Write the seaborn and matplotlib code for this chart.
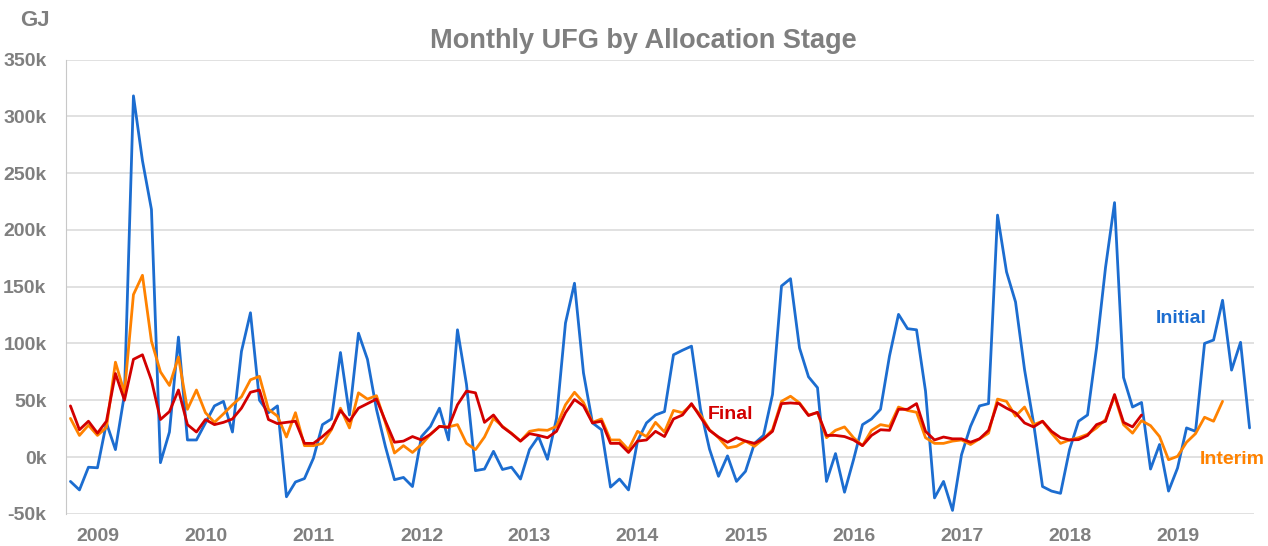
import matplotlib
matplotlib.use("Agg")
import matplotlib.pyplot as plt
import pandas as pd
import seaborn as sns

# monthly UFG in thousands of GJ, Oct 2008 onwards (one row per calendar year)
initial = [
    -21.5, -29, -9,
    -9.5, 30, 6.5, 55, 318, 261, 218, -5, 22, 105.6, 15, 15,
    30, 45, 49, 22, 93, 127, 50, 39, 45, -35, -22, -19,
    -1, 28.5, 33.5, 92, 37, 109, 86, 42, 9, -20, -18, -26,
    18, 27, 43, 15, 112, 64, -12, -10.6, 5, -11, -9, -19.4,
    6.5, 18, -2, 34, 118, 153, 74, 30, 24, -26.5, -19.4, -29,
    14, 30, 37, 40, 90, 94, 97.6, 42, 7, -17, 1, -21.5,
    -12.6, 12, 19, 55, 150.6, 157, 96, 70.6, 61, -21.5, 3, -31,
    -2.4, 28.5, 33.5, 42, 89, 125.6, 113, 112, 58, -36, -21.5, -47,
    2, 27, 45, 47, 213, 163, 136.5, 77, 30, -26, -30, -32,
    6.5, 31.5, 37, 96, 167, 224, 70, 44, 48, -10.6, 11, -30,
    -9.7, 25.6, 22.6, 100, 103, 138, 76.5, 101, 25.6,
]
interim = [
    34, 19, 28,
    19, 26, 83.5, 56.5, 143, 160, 102, 75, 63, 88, 42, 59,
    39, 30.5, 38, 46, 53, 68, 71, 42, 36, 17.6, 39, 10,
    10, 12, 24, 43, 25.6, 56.5, 51, 54, 30, 3.5, 10, 4,
    11, 20, 27, 26.5, 28.5, 12, 6.5, 17.6, 34, 27, 21, 14,
    22.6, 24, 23.5, 27, 46, 57, 48, 30.5, 33.5, 15, 15, 6.5,
    22.6, 18, 30.5, 22, 41, 39, 46, 37, 24, 17, 8, 9.4,
    14, 9.4, 16, 24, 49, 53.5, 47.6, 37, 39, 17, 23.5, 26.5,
    17, 10, 23.5, 28.5, 27, 44, 41, 39.4, 17, 12, 12, 14,
    15, 11, 16, 21, 51, 49, 36, 44, 28.5, 31.5, 21, 12,
    15, 17, 20, 25.6, 33, 53.5, 28.5, 21, 32, 27.6, 18, -2.4,
    0.6, 13, 20.6, 35, 31.5, 49,
]
final = [
    45, 24, 31.5,
    21, 31.5, 73.5, 50, 86, 90, 67.6, 33, 40, 59, 28.5, 22,
    33, 28.5, 30.5, 33.5, 43, 57, 59, 33, 29.4, 30.5, 31.5, 12,
    12, 18, 25, 41, 31.5, 43, 47, 51, 31.5, 13, 14, 18,
    15, 20, 27, 26, 46, 58, 56.5, 30.5, 37, 26.5, 20.6, 14,
    20.6, 19, 17, 22.6, 39, 50.6, 45, 30, 31.5, 12, 12, 4,
    14, 15, 22.6, 18, 33.5, 37, 47, 35, 23.5, 17.6, 13, 17,
    14, 12, 16, 22.6, 47, 47.6, 47, 36.5, 39.4, 19, 19, 18,
    15, 10, 19, 24, 23.5, 42, 42, 47, 22.6, 15, 17.6, 16,
    16, 13, 16, 23.5, 47.6, 43, 39, 30, 26.5, 31.5, 22.6, 17,
    15, 15.3, 19, 28.5, 31.5, 55, 30.5, 26.5, 37,
]
years = list(range(2009, 2020))
y_ticks = list(range(-50, 351, 50))

GREY = "#7f7f7f"
colors = {"Initial": "#1c6dd0", "Interim": "#ff8200", "Final": "#d20000"}

frames = []
for name, vals in [("Initial", initial), ("Interim", interim), ("Final", final)]:
    frames.append(pd.DataFrame({"month": range(len(vals)), "ufg": vals, "stage": name}))
df = pd.concat(frames, ignore_index=True)

sns.set_style("white")
plt.rcParams["font.family"] = ["Liberation Sans", "DejaVu Sans"]
plt.rcParams["font.weight"] = "bold"

fig = plt.figure(figsize=(12.68, 5.46), dpi=100)
ax = fig.add_axes([0.052, 0.059, 0.937, 0.832])

sns.lineplot(data=df, x="month", y="ufg", hue="stage", palette=colors,
             hue_order=["Initial", "Interim", "Final"], linewidth=2.0,
             legend=False, ax=ax)

ax.set_xlim(-0.5, 131.5)
ax.set_ylim(-50, 350)
ax.set_yticks(y_ticks)
ax.set_yticklabels([f"{t}k" for t in y_ticks])
ax.set_xticks([3 + 12 * i for i in range(len(years))])
ax.set_xticklabels([str(y) for y in years])
ax.yaxis.grid(True, color="#dcdcdc", linewidth=1.2)
ax.set_axisbelow(True)

ax.tick_params(axis="y", colors="#c8c8c8", labelcolor=GREY, labelsize=14,
               length=6, width=1, pad=8)
ax.tick_params(axis="x", length=0, labelcolor=GREY, labelsize=14, pad=10)
for s in ["top", "right", "bottom"]:
    ax.spines[s].set_visible(False)
ax.spines["left"].set_color("#c8c8c8")
ax.set_xlabel("")
ax.set_ylabel("")

fig.text(0.507, 0.925, "Monthly UFG by Allocation Stage", ha="center", va="center",
         fontsize=19.5, fontweight="bold", color=GREY)
fig.text(0.016, 0.962, "GJ", ha="left", va="center", fontsize=16,
         fontweight="bold", color=GREY)

ax.text(123.4, 122, "Initial", color=colors["Initial"], fontsize=14,
        fontweight="bold", ha="center", va="center")
ax.text(73.3, 37, "Final", color=colors["Final"], fontsize=14,
        fontweight="bold", ha="center", va="center")
ax.text(125.5, -2, "Interim", color=colors["Interim"], fontsize=14,
        fontweight="bold", ha="left", va="center")

fig.savefig("out.png", dpi=100)
